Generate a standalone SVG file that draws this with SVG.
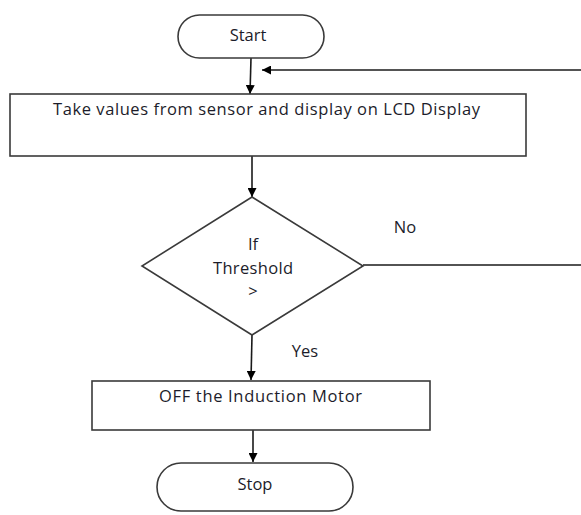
<svg xmlns="http://www.w3.org/2000/svg" width="581" height="515" viewBox="0 0 581 515">
  <style>
    .shape { fill: #ffffff; stroke: #3a3a3a; stroke-width: 1.6; }
    .wire { fill: none; stroke: #1a1a1a; stroke-width: 1.6; }
    .label { font-family: "Open Sans", "DejaVu Sans", sans-serif; font-size: 16.5px; fill: #1c1c2a; }
    .mid { text-anchor: middle; }
  </style>
  <defs>
    <marker id="arrow" viewBox="0 0 10 10" refX="10" refY="5" markerWidth="9" markerHeight="9" markerUnits="userSpaceOnUse" orient="auto">
      <path d="M0,0 L10,5 L0,10 Z" fill="#000"/>
    </marker>
  </defs>
  <rect width="581" height="515" fill="#ffffff"/>

  <g id="connectors">
    <path class="wire" d="M251,58 L250,94" marker-end="url(#arrow)"/>
    <path class="wire" d="M581,70 L262,70" marker-end="url(#arrow)"/>
    <path class="wire" d="M252,156 L252,197" marker-end="url(#arrow)"/>
    <path class="wire" d="M363,265 L581,265"/>
    <path class="wire" d="M252,335 L251,380" marker-end="url(#arrow)"/>
    <path class="wire" d="M253,430 L253,462" marker-end="url(#arrow)"/>
  </g>

  <g id="start">
    <rect class="shape" x="178" y="15" width="146" height="43" rx="21.5"/>
    <text class="label mid" x="248" y="41">Start</text>
  </g>

  <g id="read-sensor">
    <rect class="shape" x="10" y="94" width="516" height="62"/>
    <text class="label" x="53" y="115" textLength="427">Take values from sensor and display on LCD Display</text>
  </g>

  <g id="threshold-check">
    <polygon class="shape" points="252,197 363,266 252,335 142,266"/>
    <text class="label mid" x="253" y="250">If</text>
    <text class="label" x="213" y="274" textLength="80">Threshold</text>
    <text class="label mid" x="253" y="297">&gt;</text>
  </g>

  <g id="branch-labels">
    <text class="label mid" x="405" y="233">No</text>
    <text class="label mid" x="305" y="357">Yes</text>
  </g>

  <g id="motor-off">
    <rect class="shape" x="92" y="381" width="338" height="49"/>
    <text class="label" x="159" y="402" textLength="203">OFF the Induction Motor</text>
  </g>

  <g id="stop">
    <rect class="shape" x="157" y="463" width="196" height="48" rx="24"/>
    <text class="label mid" x="255" y="490">Stop</text>
  </g>
</svg>
